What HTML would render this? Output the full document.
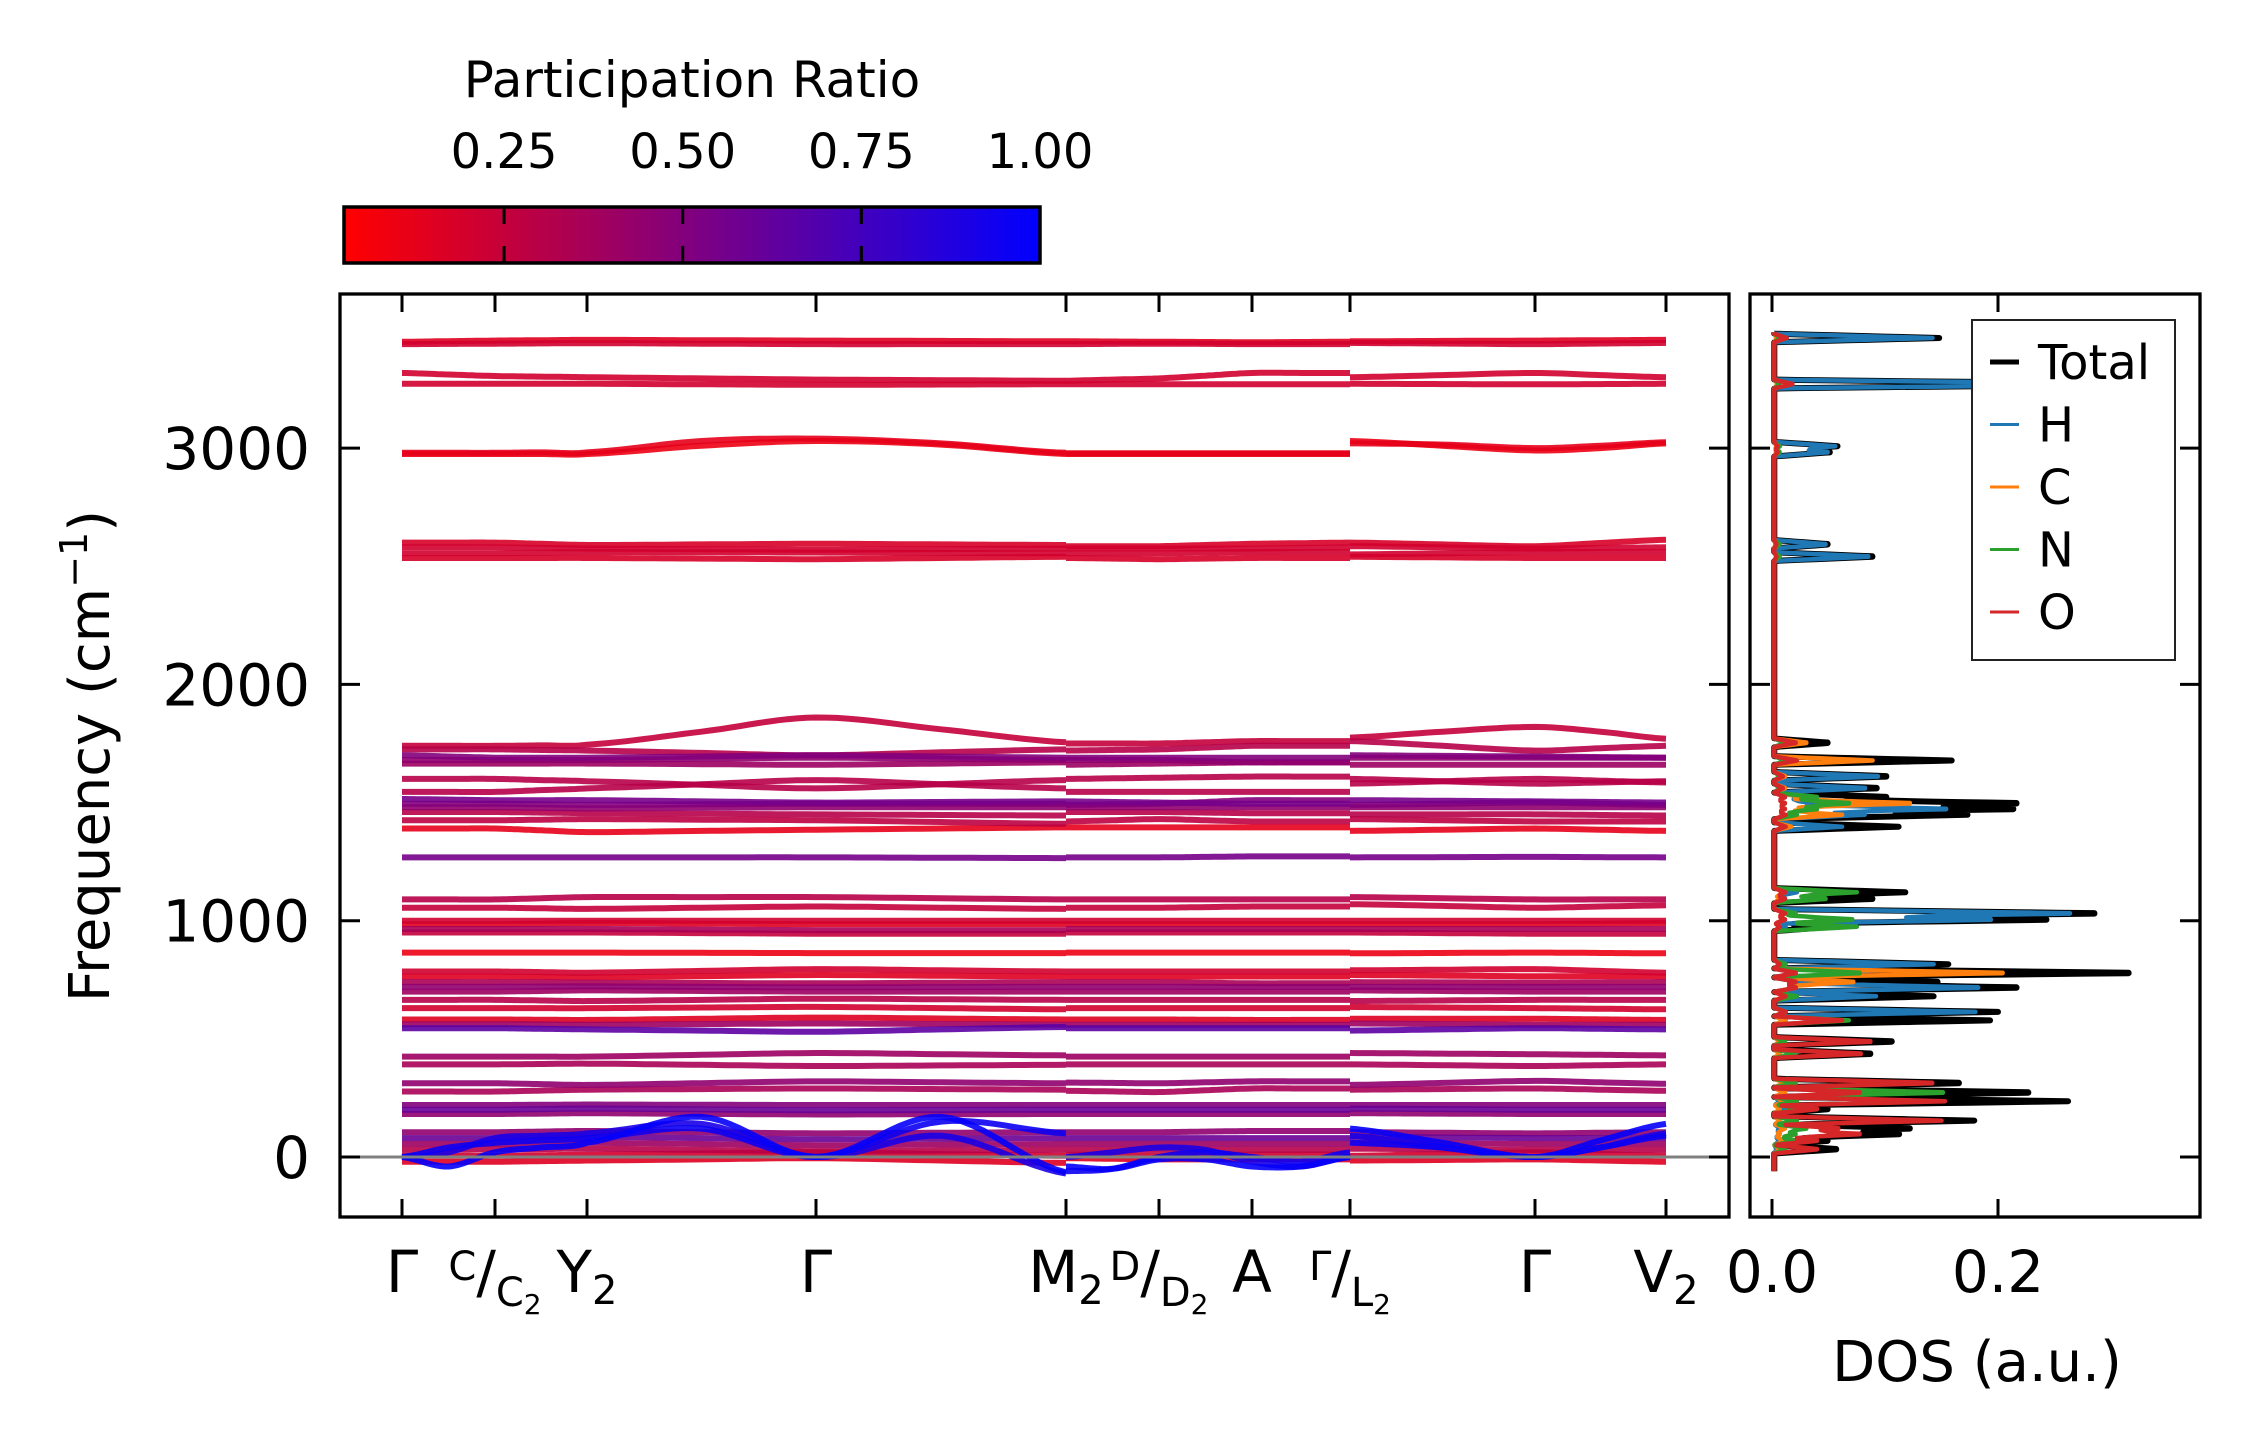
<!DOCTYPE html>
<html><head><meta charset="utf-8">
<style>
html,body{margin:0;padding:0;background:#fff;}
svg{display:block;font-family:"DejaVu Sans","Liberation Sans",sans-serif;}
</style></head>
<body>
<svg id="fig" xmlns="http://www.w3.org/2000/svg" width="2259" height="1455" viewBox="0 0 2259 1455">
<defs>
<linearGradient id="cbgrad" x1="0" x2="1" y1="0" y2="0">
<stop offset="0" stop-color="rgb(255,0,0)"/><stop offset="1" stop-color="rgb(0,0,255)"/>
</linearGradient>
<clipPath id="clipMain"><rect x="340" y="294" width="1389" height="923"/></clipPath>
<clipPath id="clipDos"><rect x="1750" y="294" width="450" height="923"/></clipPath>
</defs>
<g>
<text x="692" y="97" font-size="50" text-anchor="middle">Participation Ratio</text>
<rect x="344" y="207" width="696" height="56" fill="url(#cbgrad)" stroke="#000" stroke-width="3.5"/>
<g id="cbticks"></g>
</g>
<g id="bands" clip-path="url(#clipMain)"></g>
<line x1="340" x2="1729" y1="1157" y2="1157" stroke="#808080" stroke-width="3"/>
<rect x="340" y="294" width="1389" height="923" fill="none" stroke="#000" stroke-width="3.3"/>
<g id="dos" clip-path="url(#clipDos)"></g>
<rect x="1750" y="294" width="450" height="923" fill="none" stroke="#000" stroke-width="3.3"/>
<g id="axes"></g>
<text transform="translate(109,756) rotate(-90)" font-size="56" text-anchor="middle">Frequency (cm<tspan dy="-22" font-size="38">−1</tspan><tspan dy="22">)</tspan></text>
<text x="1977" y="1381" font-size="56" text-anchor="middle">DOS (a.u.)</text>
<g>
<rect x="1972" y="320" width="203" height="340" fill="#fff" stroke="#222" stroke-width="2"/>
<g id="legend"></g>
</g>
</svg>
<script>
var cbTicks = [0.25, 0.50, 0.75, 1.00];
var cbTickLabels = ["0.25", "0.50", "0.75", "1.00"];
var cbMin = 0.026, cbMax = 1.0;

var kDist = [0, 0.93, 1.85, 4.14, 6.64, 6.64, 7.57, 8.50, 9.48, 9.48, 11.33, 12.64];
var kSegments = [[0,1,2,3,4],[5,6,7,8],[9,10,11]];
var kTickDist = [0, 0.93, 1.85, 4.14, 6.64, 7.57, 8.50, 9.48, 11.33, 12.64];
var kTickLabels = ["Γ", "C|C2", "Y2", "Γ", "M2", "D|D2", "A", "Γ|L2", "Γ", "V2"];
var yTicks = [0, 1000, 2000, 3000];

var bandFreqs = [
[3450,3455,3458,3455,3452, 3452,3450,3448,3450, 3452,3455,3458],
[3440,3442,3444,3440,3440, 3440,3442,3440,3440, 3445,3440,3445],
[3318,3305,3300,3290,3285, 3285,3295,3318,3318, 3300,3318,3300],
[3272,3272,3272,3268,3270, 3270,3270,3270,3270, 3272,3270,3272],
[2975,2975,2975,3030,2975, 2975,2975,2975,2975, 3030,2990,3020],
[2980,2980,2982,3040,2980, 2978,2978,2978,2978, 3020,3000,3025],
[2600,2600,2590,2595,2590, 2585,2585,2595,2600, 2600,2585,2612],
[2580,2580,2575,2570,2575, 2575,2575,2575,2580, 2585,2575,2580],
[2555,2555,2560,2558,2555, 2555,2555,2560,2560, 2550,2560,2560],
[2535,2535,2535,2530,2540, 2535,2530,2535,2535, 2540,2535,2535],
[1740,1740,1745,1860,1755, 1750,1750,1760,1760, 1775,1820,1770],
[1725,1725,1720,1700,1725, 1720,1725,1740,1740, 1760,1720,1740],
[1700,1690,1690,1700,1690, 1690,1690,1690,1690, 1700,1695,1690],
[1680,1680,1680,1690,1680, 1680,1680,1670,1670, 1690,1690,1690],
[1665,1665,1665,1660,1670, 1660,1665,1670,1670, 1660,1660,1660],
[1600,1600,1590,1560,1595, 1600,1605,1610,1610, 1600,1580,1590],
[1545,1545,1560,1595,1560, 1545,1545,1545,1545, 1580,1600,1585],
[1515,1510,1510,1500,1505, 1505,1500,1495,1495, 1510,1505,1500],
[1495,1495,1490,1495,1495, 1490,1495,1510,1510, 1490,1500,1490],
[1480,1480,1475,1480,1480, 1480,1480,1480,1480, 1480,1480,1480],
[1460,1460,1455,1450,1445, 1460,1460,1455,1455, 1450,1450,1445],
[1425,1425,1430,1425,1410, 1420,1430,1420,1420, 1430,1420,1420],
[1390,1390,1375,1385,1395, 1395,1395,1395,1395, 1380,1390,1380],
[1268,1268,1268,1268,1265, 1268,1268,1272,1272, 1268,1270,1268],
[1090,1090,1100,1100,1090, 1090,1090,1090,1090, 1100,1090,1090],
[1055,1055,1050,1060,1050, 1055,1055,1060,1060, 1070,1055,1065],
[1000,1000,1000,1000,1000, 1000,1000,1000,1000, 1000,1000,1000],
[985,985,990,985,985, 985,985,985,985, 985,985,990],
[965,965,965,960,960, 965,965,965,965, 965,965,965],
[950,950,950,945,945, 950,950,950,950, 950,945,945],
[865,865,865,863,863, 865,865,865,865, 862,865,862],
[785,785,780,795,785, 785,785,785,785, 790,795,780],
[764,764,760,770,764, 764,764,764,764, 770,765,764],
[740,740,738,735,740, 740,740,735,735, 740,738,740],
[720,720,722,718,720, 720,720,720,720, 720,720,720],
[700,700,705,700,700, 700,700,700,700, 705,700,700],
[665,665,660,670,665, 665,665,665,665, 660,665,665],
[630,630,630,635,625, 630,630,630,630, 635,630,625],
[582,582,580,590,582, 582,582,580,580, 585,585,580],
[545,545,540,530,550, 545,545,545,545, 535,545,540],
[562,562,560,565,560, 560,560,560,560, 565,560,560],
[425,425,425,440,430, 425,425,425,425, 440,435,430],
[392,392,395,385,390, 392,392,392,392, 392,385,392],
[312,312,305,320,312, 315,312,320,320, 305,322,310],
[277,277,285,290,285, 280,275,290,290, 285,290,280],
[220,220,222,220,220, 220,220,220,220, 220,220,220],
[200,200,205,198,200, 200,200,200,200, 205,200,200],
[182,182,185,180,182, 182,182,182,182, 185,182,182],
[105,105,110,100,105, 105,105,110,110, 105,100,105],
[80,80,85,75,80, 80,80,80,80, 85,80,80],
[55,55,60,50,55, 55,55,55,55, 60,55,55],
[30,32,35,25,30, 30,30,30,30, 35,30,30],
[5,5,10,20,5, 10,5,10,10, 5,20,5],
[-20,-20,-15,-5,-25, -5,-10,-10,-10, -15,-10,-20],
[0,20,60,0,-65, -40,-10,-40,0, 120,0,140],
[0,60,80,0,100, -60,0,0,20, 60,0,90],
[0,80,100,0,-70, 0,40,-20,0, 90,0,100]
];
var bandPR = [0.15,0.2,0.2,0.2,0.1,0.12,0.18,0.2,0.2,0.18,
0.25,0.3,0.5,0.45,0.4,0.3,0.3,0.55,0.5,0.45,0.3,0.28,0.12,0.55,0.3,0.25,
0.2,0.15,0.35,0.25,0.1,0.2,0.15,0.35,0.45,0.4,0.3,0.2,0.15,0.65,0.4,
0.4,0.35,0.45,0.35,0.5,0.6,0.45,0.45,0.6,0.4,0.3,0.2,0.15,0.98,0.95,0.9];
var bandMids = {
4: [2975,2975,3010,3015, 2975,2975,2975, 3010,3000],
5: [2980,2982,3030,3020, 2978,2978,2978, 3015,3010],
10:[1740,1742,1800,1810, 1750,1755,1760, 1800,1800],
54:[-40,40,170,170, -50,-10,-40, 60,70],
55:[40,70,120,150, -50,20,-20, 40,40],
56:[20,90,140,90, 20,30,-40, 40,40]
};

var dosPeakFreq = [3466,3271,3008,2983,2593,2541,1753,1678,1611,1561,1523,1497,1473,1448,1398,1120,1093,1031,1005,974,816,779,741,717,680,614,578,489,437,313,273,236,203,154,121,97,69,33];
var dosTotal = [.146,.36,.056,.052,.050,.092,.050,.157,.105,.096,.105,.227,.224,.171,.110,.116,.092,.300,.255,.05,.154,.332,.153,.227,.141,.198,.191,.110,.090,.173,.238,.260,.05,.177,.127,.117,.05,.058];
var dosH = [.14,.35,.054,.05,.048,.088,.01,.02,.097,.085,.03,.04,.161,.08,.06,.02,.01,.277,.203,.01,.141,.02,.03,.191,.09,.178,.01,.005,.005,.01,.01,.005,.01,.005,.005,.005,.005,.002];
var dosC = [.002,.003,.002,.002,.001,.002,.03,.087,.01,.01,.03,.127,.03,.06,.015,.01,.005,.01,.01,.005,.005,.214,.074,.02,.01,.01,.01,.005,.005,.01,.01,.01,.005,.005,.01,.005,.01,.005];
var dosN = [.005,.005,.005,.005,.005,.005,.01,.01,.005,.005,.04,.07,.04,.02,.01,.073,.048,.02,.073,.073,.01,.08,.02,.02,.02,.01,.066,.01,.02,.02,.158,.02,.03,.02,.03,.02,.02,.01];
var dosO = [.011,.017,.003,.003,.002,.002,.02,.02,.008,.008,.01,.01,.01,.01,.01,.01,.01,.01,.01,.005,.005,.02,.02,.02,.01,.01,.06,.090,.081,.148,.080,.151,.04,.148,.06,.08,.04,.04];
var dosTicks = [0.0, 0.2];
var dosTickLabels = ["0.0", "0.2"];
var legendLabels = ["Total", "H", "C", "N", "O"];

var NS = "http://www.w3.org/2000/svg";
function xK(k){ return 402 + (k / 12.64) * (1666 - 402); }
function yF(f){ return 1157 - f * 0.2363; }
function xDos(v){ return 1772 + v * 1130; }
function xCb(v){ return 344 + (v - cbMin) / (cbMax - cbMin) * 696; }
function prColor(p){ var t = Math.max(0, Math.min(1, (p - cbMin) / (cbMax - cbMin)));
  return "rgb(" + Math.round(255 * (1 - t)) + ",0," + Math.round(255 * t) + ")"; }
function mk(tag, attrs, parent){ var e = document.createElementNS(NS, tag);
  for (var k in attrs) e.setAttribute(k, attrs[k]); parent.appendChild(e); return e; }

var cbg = document.getElementById("cbticks");
cbTicks.forEach(function(v, i){
  var x = xCb(v);
  if (i < cbTicks.length - 1) {
    var t1 = mk("line", {x1:x, x2:x, y1:207, y2:224, stroke:"#000", "stroke-width":3}, cbg);
    
    
    var t2 = mk("line", {x1:x, x2:x, y1:246, y2:263, stroke:"#000", "stroke-width":3}, cbg);
    
    
  }
  var tl = mk("text", {x:x, y:168, "font-size":48, "text-anchor":"middle"}, cbg);
  tl.textContent = cbTickLabels[i];
  
  
});

function catmull(p0, p1, p2, p3, t){
  var t2 = t*t, t3 = t2*t;
  return 0.5*((2*p1) + (-p0+p2)*t + (2*p0-5*p1+4*p2-p3)*t2 + (-p0+3*p1-3*p2+p3)*t3);
}
var bg = document.getElementById("bands");
var order = bandFreqs.map(function(_, i){ return i; });
order.sort(function(a, b){ return bandPR[a] - bandPR[b]; });
order.forEach(function(bi){
  var fr = bandFreqs[bi], mids = bandMids[bi];
  var midIdx = 0;
  kSegments.forEach(function(seg){
    var ks = [], fs = [];
    for (var j = 0; j < seg.length; j++) {
      ks.push(kDist[seg[j]]); fs.push(fr[seg[j]]);
      if (j < seg.length - 1) {
        var a = seg[j], b = seg[j+1];
        ks.push((kDist[a] + kDist[b]) / 2);
        fs.push(mids ? mids[midIdx] : (fr[a] + fr[b]) / 2);
        midIdx++;
      }
    }
    var pts = [];
    for (var i = 0; i < ks.length - 1; i++) {
      var p0 = fs[Math.max(0, i-1)], p1 = fs[i], p2 = fs[i+1], p3 = fs[Math.min(fs.length-1, i+2)];
      for (var s = 0; s < 12; s++) {
        var t = s / 12;
        pts.push(xK(ks[i] + (ks[i+1]-ks[i])*t).toFixed(1) + "," + yF(catmull(p0,p1,p2,p3,t)).toFixed(1));
      }
    }
    pts.push(xK(ks[ks.length-1]).toFixed(1) + "," + yF(fs[fs.length-1]).toFixed(1));
    var pl = mk("polyline", {points: pts.join(" "), fill:"none", stroke: prColor(bandPR[bi]), "stroke-width":6, "stroke-linejoin":"round", opacity:0.9}, bg);
    
    
  });
});

var dg = document.getElementById("dos");
function dosCurve(h){
  var pts = [];
  for (var f = -60; f <= 3490; f += 2) {
    var v = 0.002;
    for (var i = 0; i < dosPeakFreq.length; i++) {
      var d = Math.abs(f - dosPeakFreq[i]);
      if (d < 18) v += h[i] * (1 - d / 18);
    }
    pts.push(xDos(v).toFixed(1) + "," + yF(f).toFixed(1));
  }
  return pts.join(" ");
}
var dosSeries = [dosTotal, dosH, dosC, dosN, dosO];
var dosColors = ["#000000", "#1f77b4", "#ff7f0e", "#2ca02c", "#d62728"];
var dosNames = ["dos-total-line", "dos-h-line", "dos-c-line", "dos-n-line", "dos-o-line"];
dosSeries.forEach(function(s, i){
  var pl = mk("polyline", {points: dosCurve(s), fill:"none", stroke: dosColors[i], "stroke-width": i === 0 ? 6 : 4.5, "stroke-linejoin":"round"}, dg);
  
  
});

var ag = document.getElementById("axes");
yTicks.forEach(function(v){
  var y = yF(v);
  [[340,360],[1709,1729],[1750,1770],[2180,2200]].forEach(function(r){
    var tk = mk("line", {x1:r[0], x2:r[1], y1:y, y2:y, stroke:"#000", "stroke-width":3}, ag);
    
    
  });
  var tl = mk("text", {x:310, y:y+21, "font-size":58, "text-anchor":"end"}, ag);
  tl.textContent = String(v);
  
  
});
kTickDist.forEach(function(k, i){
  var x = xK(k);
  [[294,312],[1199,1217]].forEach(function(r){
    var tk = mk("line", {x1:x, x2:x, y1:r[0], y2:r[1], stroke:"#000", "stroke-width":3}, ag);
    
    
  });
  var lab = kTickLabels[i];
  var t = mk("text", {x:x, y:1292, "font-size":58, "text-anchor":"middle"}, ag);
  
  
  if (lab.indexOf("|") >= 0) {
    var parts = lab.split("|");
    var sup = parts[0], sub = parts[1];
    var a = document.createElementNS(NS, "tspan"); a.setAttribute("font-size","40"); a.setAttribute("dy","-12"); a.textContent = sup; t.appendChild(a);
    var b = document.createElementNS(NS, "tspan"); b.setAttribute("dy","12"); b.textContent = "/"; t.appendChild(b);
    var c = document.createElementNS(NS, "tspan"); c.setAttribute("font-size","40"); c.setAttribute("dy","14"); c.textContent = sub.charAt(0); t.appendChild(c);
    var d = document.createElementNS(NS, "tspan"); d.setAttribute("font-size","28"); d.setAttribute("dy","8"); d.textContent = sub.substring(1); t.appendChild(d);
  } else if (lab.length > 1 && lab.charAt(lab.length-1) === "2") {
    var m = document.createElementNS(NS, "tspan"); m.textContent = lab.substring(0, lab.length-1); t.appendChild(m);
    var n = document.createElementNS(NS, "tspan"); n.setAttribute("font-size","40"); n.setAttribute("dy","12"); n.textContent = "2"; t.appendChild(n);
  } else {
    t.textContent = lab;
  }
});
dosTicks.forEach(function(v, i){
  var x = xDos(v);
  [[294,312],[1199,1217]].forEach(function(r){
    var tk = mk("line", {x1:x, x2:x, y1:r[0], y2:r[1], stroke:"#000", "stroke-width":3}, ag);
    
    
  });
  var tl = mk("text", {x:x, y:1292, "font-size":58, "text-anchor":"middle"}, ag);
  tl.textContent = dosTickLabels[i];
  
  
});

var lg = document.getElementById("legend");
legendLabels.forEach(function(l, i){
  var y = 362 + i * 62.5;
  var ln = mk("line", {x1:1990, x2:2019, y1:y, y2:y, stroke: dosColors[i], "stroke-width": i === 0 ? 5 : 3}, lg);
  
  
  var tx = mk("text", {x:2038, y:y+17, "font-size":48}, lg);
  tx.textContent = l;
  
  
});
</script>
</body></html>
